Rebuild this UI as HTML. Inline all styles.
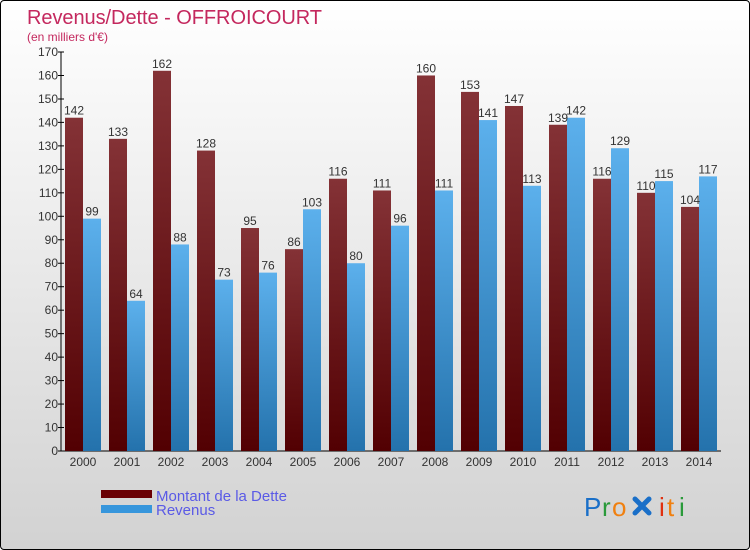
<!DOCTYPE html>
<html><head><meta charset="utf-8"><style>
body{margin:0;width:750px;height:550px;overflow:hidden;font-family:"Liberation Sans","DejaVu Sans",sans-serif}
#wrap{position:absolute;left:0;top:0;width:748px;height:548px;border:1px solid #000;border-radius:4px;background:linear-gradient(#ffffff,#d2d2d2);overflow:hidden}
</style></head><body>
<div id="wrap">
<svg id="chart" width="750" height="550">
<defs>
<linearGradient id="gd" x1="0" y1="0" x2="0" y2="1"><stop offset="0" stop-color="#843236"/><stop offset="1" stop-color="#520002"/></linearGradient>
<linearGradient id="gr" x1="0" y1="0" x2="0" y2="1"><stop offset="0" stop-color="#5cb0ec"/><stop offset="1" stop-color="#2472ac"/></linearGradient>
</defs>
<text x="26" y="23" font-size="20" fill="#c4285e" textLength="295">Revenus/Dette - OFFROICOURT</text>
<text x="26" y="40" font-size="12" fill="#c4285e">(en milliers d'€)</text>
<g id="axes"></g><g id="bars"></g>
<rect x="100" y="489" width="51" height="8" fill="#6a0004"/>
<rect x="100" y="504" width="51" height="8" fill="#3796dc"/>
<text x="155" y="500" font-size="15" fill="#5a5ae6">Montant de la Dette</text>
<text x="155" y="514" font-size="15" fill="#5a5ae6">Revenus</text>
<g font-size="26" font-family="Liberation Sans, sans-serif">
<text x="583" y="515" fill="#1a6fc8">P</text><text x="601" y="515" fill="#2a9a3a">r</text><text x="611" y="515" fill="#f08010">o</text>
<g stroke="#1a6fc8" stroke-width="5" stroke-linecap="round"><line x1="634" y1="498" x2="648" y2="512"/><line x1="648" y1="498" x2="634" y2="512"/></g>
<text x="658" y="515" fill="#e03010">i</text><text x="666" y="515" fill="#f08010">t</text><text x="678" y="515" fill="#2a9a3a">i</text>
</g>
</svg></div>
<script>
const years=["2000","2001","2002","2003","2004","2005","2006","2007","2008","2009","2010","2011","2012","2013","2014"];
const dette=[142,133,162,128,95,86,116,111,160,153,147,139,116,110,104];
const revenus=[99,64,88,73,76,103,80,96,111,141,113,142,129,115,117];
const yTicks=[0,10,20,30,40,50,60,70,80,90,100,110,120,130,140,150,160,170];
const NS="http://www.w3.org/2000/svg";
const x0=60,slot=44,y0=450,yMax=170,yTop=51;
function ys(v){return y0-(v/yMax)*(y0-yTop);}
function xs(i){return x0+i*slot;}
const ax=document.getElementById('axes'),bg=document.getElementById('bars');
function mk(tag,at,p){const e=document.createElementNS(NS,tag);for(const k in at)e.setAttribute(k,at[k]);p.appendChild(e);return e;}
let l=mk('line',{x1:x0,y1:yTop,x2:x0,y2:y0,stroke:'#000'},ax);


l=mk('line',{x1:x0,y1:y0,x2:x0+years.length*slot,y2:y0,stroke:'#000'},ax);


yTicks.forEach(v=>{const y=ys(v);
mk('line',{x1:x0-3,y1:y,x2:x0+3,y2:y,stroke:'#000'},ax);
const t=mk('text',{x:x0-3,y:y+4,'text-anchor':'end','font-size':12,fill:'#333'},ax);t.textContent=v;

});
years.forEach((yr,i)=>{const x=xs(i);
const t=mk('text',{x:x+22,y:y0+15,'text-anchor':'middle','font-size':12,fill:'#333'},ax);t.textContent=yr;


const b1=mk('rect',{x:x+4,y:ys(dette[i]),width:18,height:y0-ys(dette[i]),fill:'url(#gd)'},bg);


const b2=mk('rect',{x:x+22,y:ys(revenus[i]),width:18,height:y0-ys(revenus[i]),fill:'url(#gr)'},bg);


const l1=mk('text',{x:x+13,y:ys(dette[i])-3,'text-anchor':'middle','font-size':12,fill:'#333'},bg);l1.textContent=dette[i];


const l2=mk('text',{x:x+31,y:ys(revenus[i])-3,'text-anchor':'middle','font-size':12,fill:'#333'},bg);l2.textContent=revenus[i];

});
</script>
</body></html>
